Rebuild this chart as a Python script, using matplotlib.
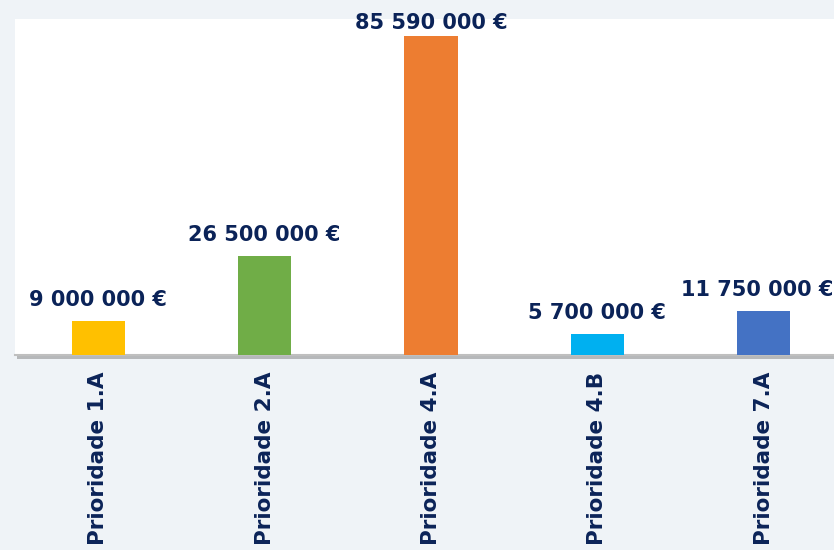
import matplotlib.pyplot as plt
import matplotlib.patheffects as pe

# Dados
categorias = ["Prioridade 1.A", "Prioridade 2.A", "Prioridade 4.A", "Prioridade 4.B", "Prioridade 7.A"]
valores = [9000000, 26500000, 85590000, 5700000, 11750000]
cores = ["#FFC000", "#70AD47", "#ED7D31", "#00B0F0", "#4472C4"]
rotulos = ["9 000 000 €", "26 500 000 €", "85 590 000 €", "5 700 000 €", "11 750 000 €"]

azul = "#0B2358"
fundo = "#EFF3F7"

fig = plt.figure(figsize=(8.34, 5.5), dpi=100, facecolor=fundo)
# área do gráfico (passa ligeiramente da margem direita, como no original)
ax = fig.add_axes([15 / 834, 1 - 355 / 550, 832 / 834, 336 / 550])
ax.set_facecolor("white")
ax.patch.set_path_effects([pe.SimplePatchShadow(offset=(1.5, -3), shadow_rgbFace="#7f7f7f", alpha=0.5),
                           pe.Normal()])

x = range(len(categorias))
ax.bar(x, valores, width=0.32, color=cores, zorder=3)

ymax = 90150000
textos = []
for xi, v, r in zip(x, valores, rotulos):
    # rótulo acima da barra; o maior é encostado para caber na figura
    off = 8 if v < 0.85 * ymax else 2
    t = ax.annotate(r, (xi, v), xytext=(0, off), textcoords="offset points",
                    ha="center", va="bottom", fontsize=15, fontweight="bold", color=azul,
                    annotation_clip=False)
    textos.append(t)

ax.set_xlim(-0.5, 4.5)
ax.set_ylim(0, ymax)
ax.set_xticks(list(x))
ax.set_xticklabels(categorias, rotation=90, fontsize=15.5, fontweight="bold", color=azul,
                   va="top", ha="center")
ax.tick_params(axis="x", length=0, pad=12)
ax.set_yticks([])
for s in ["top", "left", "right"]:
    ax.spines[s].set_visible(False)
ax.spines["bottom"].set_color("#BFBFBF")
ax.spines["bottom"].set_linewidth(1.5)

# puxar para dentro os rótulos que saem da figura
fig.canvas.draw()
largura = fig.bbox.width
for t in textos:
    bb = t.get_window_extent()
    if bb.x1 > largura - 1:
        dx = (bb.x1 - largura + 1) * 72 / fig.dpi
        ox, oy = t.xyann
        t.xyann = (ox - dx, oy)

fig.savefig("out.png", dpi=100, facecolor=fundo)
